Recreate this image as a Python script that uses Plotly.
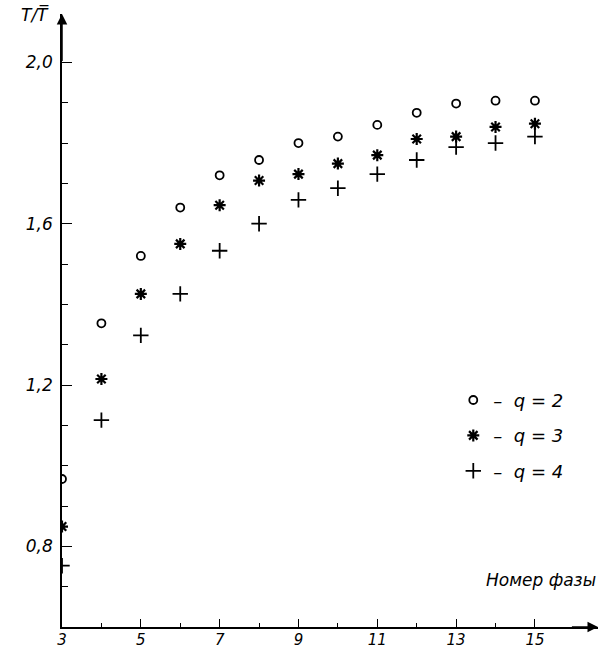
import plotly.graph_objects as go

# Data
phase = [3, 4, 5, 6, 7, 8, 9, 10, 11, 12, 13, 14, 15]
q2 = [0.967, 1.353, 1.52, 1.64, 1.72, 1.758, 1.80, 1.816, 1.845, 1.875, 1.898, 1.905, 1.905]
q3 = [0.849, 1.215, 1.426, 1.55, 1.646, 1.707, 1.723, 1.749, 1.77, 1.81, 1.816, 1.84, 1.848]
q4 = [0.752, 1.113, 1.323, 1.426, 1.533, 1.60, 1.659, 1.688, 1.723, 1.758, 1.79, 1.80, 1.816]
series_names = ["–  <i>q</i> = 2", "–  <i>q</i> = 3", "–  <i>q</i> = 4"]

x_tickvals = [3, 5, 7, 9, 11, 13, 15]
x_ticktext = ["3", "5", "7", "9", "11", "13", "15"]
x_minor = [4, 6, 8, 10, 12, 14]
y_tickvals = [0.8, 1.2, 1.6, 2.0]
y_ticktext = ["0,8", "1,2", "1,6", "2,0"]
y_minor = [0.7, 0.9, 1.0, 1.1, 1.3, 1.4, 1.5, 1.7, 1.8, 1.9]

FONT = "DejaVu Sans"
ital = dict(family=FONT, size=17, color="black", style="italic")
ital_x = dict(family=FONT, size=15, color="black", style="italic")

fig = go.Figure()
fig.add_trace(go.Scatter(x=phase, y=q2, mode="markers", name=series_names[0], legendgroup="a",
                         marker=dict(symbol="circle-open", size=8, color="black", line=dict(width=1.8))))
fig.add_trace(go.Scatter(x=phase, y=q3, mode="markers", name=series_names[1], legendgroup="b",
                         marker=dict(symbol="asterisk-open", size=10, color="black", line=dict(width=2.2))))
fig.add_trace(go.Scatter(x=phase, y=q4, mode="markers", name=series_names[2], legendgroup="c",
                         marker=dict(symbol="cross-thin-open", size=11, color="black", line=dict(width=1.8))))

fig.update_layout(
    width=605, height=648,
    margin=dict(l=62, r=7, t=14, b=21, autoexpand=False),
    paper_bgcolor="white", plot_bgcolor="white",
    showlegend=True,
    legend=dict(x=0.73, y=0.40, xanchor="left", yanchor="top", bgcolor="rgba(0,0,0,0)",
                font=dict(family=FONT, size=18, color="black", style="italic"),
                tracegroupgap=9, itemwidth=30),
    xaxis=dict(range=[3, 16.6], showgrid=False, zeroline=False, showline=True, automargin=False,
               linecolor="black", linewidth=1.5,
               tickmode="array", tickvals=x_tickvals, ticktext=x_ticktext,
               ticks="inside", ticklen=8, tickwidth=1.3, tickcolor="black",
               tickfont=ital_x, ticklabelstandoff=-2,
               minor=dict(tickmode="array", tickvals=x_minor, ticks="inside", ticklen=4,
                          tickwidth=1.2, tickcolor="black")),
    yaxis=dict(range=[0.6, 2.12], showgrid=False, zeroline=False, showline=True, automargin=False,
               linecolor="black", linewidth=1.5,
               tickmode="array", tickvals=y_tickvals, ticktext=y_ticktext,
               ticks="inside", ticklen=10, tickwidth=1.3, tickcolor="black",
               tickfont=ital, ticklabelstandoff=4,
               minor=dict(tickmode="array", tickvals=y_minor, ticks="inside", ticklen=6,
                          tickwidth=1.2, tickcolor="black")),
)

# axis arrows
fig.add_annotation(x=16.6, y=0.6, ax=15.9, ay=0.6, xref="x", yref="y", axref="x", ayref="y",
                   text="", showarrow=True, arrowhead=2, arrowsize=1.4, arrowwidth=1.5, arrowcolor="black")
fig.add_annotation(x=3, y=2.12, ax=3, ay=2.0, xref="x", yref="y", axref="x", ayref="y",
                   text="", showarrow=True, arrowhead=2, arrowsize=1.4, arrowwidth=1.5, arrowcolor="black")

# axis titles
fig.add_annotation(x=-0.02, y=1.0, xref="paper", yref="paper", xanchor="right", yanchor="middle",
                   text="T/T\u0305", showarrow=False, font=ital)
fig.add_annotation(x=1.0, y=0.077, xref="paper", yref="paper", xanchor="right", yanchor="middle",
                   text="Номер фазы", showarrow=False, font=ital)

fig.write_html("out.html", config={"displayModeBar": False},
               post_script="document.body.style.margin='0';document.body.style.overflow='hidden';")
